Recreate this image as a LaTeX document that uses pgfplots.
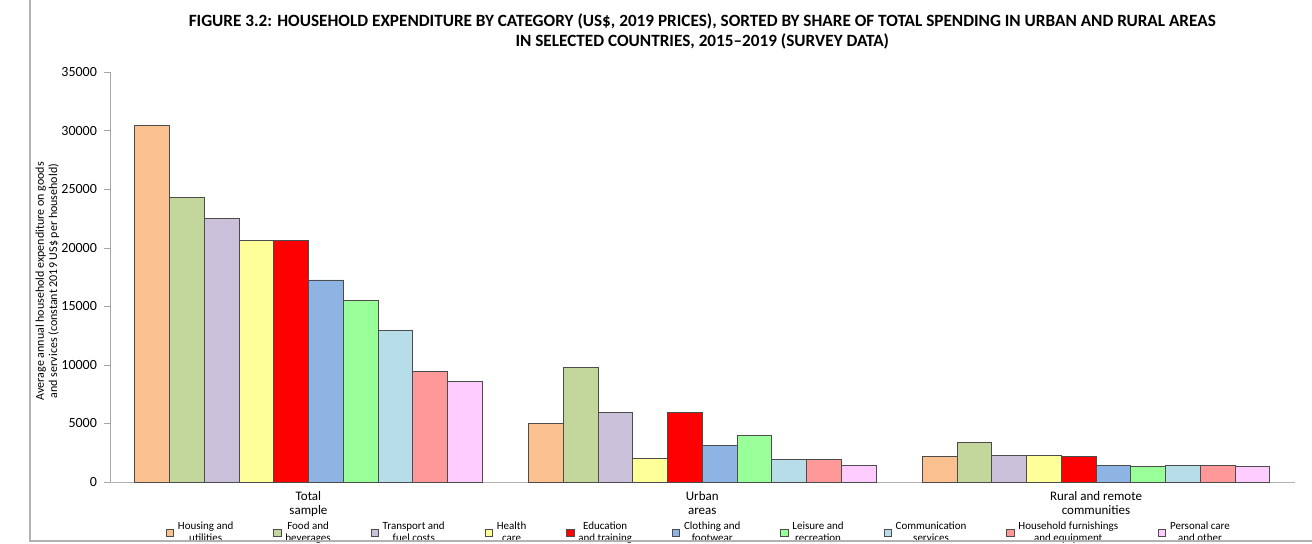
\documentclass[border=0pt]{standalone}
\usepackage{fontspec}
\setmainfont{Carlito}
\usepackage{pgfplots}
\pgfplotsset{compat=1.18}
\definecolor{c1}{HTML}{FAC090}
\definecolor{c2}{HTML}{C3D69B}
\definecolor{c3}{HTML}{CCC1DA}
\definecolor{c4}{HTML}{FFFF99}
\definecolor{c5}{HTML}{FF0000}
\definecolor{c6}{HTML}{8EB4E3}
\definecolor{c7}{HTML}{99FF99}
\definecolor{c8}{HTML}{B7DEE8}
\definecolor{c9}{HTML}{FF9999}
\definecolor{c10}{HTML}{FFCCFF}
\begin{document}
\begin{tikzpicture}
\begin{axis}[
  scale only axis, width=592.25pt, height=205pt,
  xmin=-0.504, xmax=2.504, ymin=0, ymax=35000,
  ybar=0pt, bar width=0.0882,
  axis x line*=bottom, axis y line*=left,
  x axis line style={draw=gray!60, -}, y axis line style={draw=gray!70, -},
  ytick={0,5000,...,35000},
  scaled y ticks=false,
  yticklabel style={font=\fontsize{7}{8}\selectfont, /pgf/number format/.cd, fixed, 1000 sep={}, assume math mode=true},
  ytick style={draw=gray!70}, tick align=outside, major tick length=3pt,
  xtick={0,1,2},
  xticklabels={{Total\\sample}, {Urban\\areas}, {Rural and remote\\communities}},
  xticklabel style={align=center, font=\fontsize{6.5}{7}\selectfont, yshift=2pt},
  major x tick style={draw=none},
  title={\bfseries FIGURE 3.2: HOUSEHOLD EXPENDITURE BY CATEGORY (US\$, 2019 PRICES), SORTED BY SHARE OF TOTAL SPENDING IN URBAN AND RURAL AREAS\\\bfseries IN SELECTED COUNTRIES, 2015--2019 (SURVEY DATA)},
  title style={align=center, font=\fontsize{8.6}{10}\selectfont, at={(axis description cs:0.5,1)}, anchor=south, yshift=2pt},
  legend columns=10,
  legend style={draw=none, fill=none, at={(axis description cs:0.498,-0.124)}, anchor=center,
    font=\fontsize{5.5}{6}\selectfont, nodes={align=center},
    /tikz/every even column/.append style={column sep=18pt}},
  legend image code/.code={\fill[#1] (0pt,-1.8pt) rectangle (3.6pt,1.8pt);},
  every axis plot/.append style={draw=black!70, line width=0.4pt},
  clip=false,
]
\addplot[fill=c1] coordinates {(0,30450) (1,5000) (2,2200)};
\addplot[fill=c2] coordinates {(0,24300) (1,9800) (2,3350)};
\addplot[fill=c3] coordinates {(0,22500) (1,5900) (2,2300)};
\addplot[fill=c4] coordinates {(0,20650) (1,2050) (2,2300)};
\addplot[fill=c5] coordinates {(0,20650) (1,5900) (2,2150)};
\addplot[fill=c6] coordinates {(0,17250) (1,3150) (2,1450)};
\addplot[fill=c7] coordinates {(0,15500) (1,4000) (2,1300)};
\addplot[fill=c8] coordinates {(0,12950) (1,1900) (2,1450)};
\addplot[fill=c9] coordinates {(0,9400) (1,1900) (2,1450)};
\addplot[fill=c10] coordinates {(0,8550) (1,1450) (2,1350)};
\legend{{Housing and\\utilities}, {Food and\\beverages}, {Transport and\\fuel costs}, {Health\\care}, {Education\\and training}, {Clothing and\\footwear}, {Leisure and\\recreation}, {Communication\\services}, {Household furnishings\\and equipment}, {Personal care\\and other}}
\node[rotate=90, align=center, font=\fontsize{6}{6.6}\selectfont] at (axis description cs:-0.053,0.49) {Average annual household expenditure on goods\\and services (constant 2019 US\$ per household)};
\end{axis}
\draw[gray!60, line width=0.6pt] (-40pt,241pt) -- (-40pt,-29.5pt) -- (601pt,-29.5pt);
\pgfresetboundingbox
\path (-55pt,-31pt) rectangle (601pt,241pt);
\end{tikzpicture}
\end{document}
